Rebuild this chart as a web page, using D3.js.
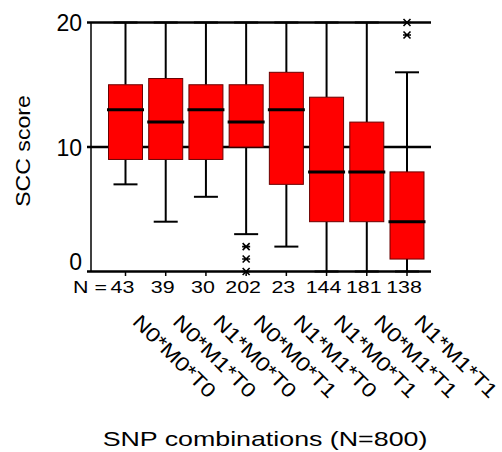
<!DOCTYPE html>
<html>
<head>
<meta charset="utf-8">
<script src="https://cdn.jsdelivr.net/npm/d3@7/dist/d3.min.js"></script>
<style>
html,body{margin:0;padding:0;background:#fff;}
svg{display:block;}
text{font-family:"Liberation Sans",Arial,sans-serif;fill:#000;}
</style>
</head>
<body>
<svg id="chart" width="502" height="452"></svg>
<script>
const categories = ["N0*M0*T0","N0*M1*T0","N1*M0*T0","N0*M0*T1","N1*M1*T0","N1*M0*T1","N0*M1*T1","N1*M1*T1"];
const counts     = [43, 39, 30, 202, 23, 144, 181, 138];
const whiskerMax = [20, 20, 20, 20, 20, 20, 20, 16];
const q3         = [15, 15.5, 15, 15, 16, 14, 12, 8];
const medians    = [13, 12, 13, 12, 13, 8, 8, 4];
const q1         = [9, 9, 9, 10, 7, 4, 4, 1];
const whiskerMin = [7, 4, 6, 3, 2, 0, 0, 0];
const outlierCat = ["N0*M0*T1","N0*M0*T1","N0*M0*T1","N1*M1*T1","N1*M1*T1"];
const outlierVal = [2, 1, 0, 20, 19];
const yTicks     = [0, 10, 20];

const svg = d3.select("#chart");
const y = d3.scaleLinear().domain([0, 20]).range([271.5, 22.5]);
const x = d3.scalePoint().domain(categories).range([125.5, 407]);
const left = 91, right = 431;
const boxW = 34, capW = 24, medW = 37;

const data = categories.map((c, i) => ({
  c, n: counts[i], max: whiskerMax[i], q3: q3[i], med: medians[i], q1: q1[i], min: whiskerMin[i]
}));

// y axis line
svg.append("line").attr("x1", left).attr("x2", left).attr("y1", y(20)).attr("y2", y(0))
  .attr("stroke", "#000").attr("stroke-width", 1.5);

// horizontal reference lines at ticks
svg.selectAll(".hline").data(yTicks).enter().append("line")
  .attr("x1", left - 4).attr("x2", right)
  .attr("y1", d => y(d)).attr("y2", d => y(d))
  .attr("stroke", "#000").attr("stroke-width", 2.5);

// y tick labels
svg.selectAll(".ylab").data(yTicks).enter().append("text")
  .attr("x", 82).attr("y", d => d === 0 ? y(d) - 1.5 : y(d) + 8.5)
  .attr("text-anchor", "end").attr("font-size", 23)
  .text(d => d);

// bottom ticks
svg.selectAll(".xtick").data(categories).enter().append("line")
  .attr("x1", d => x(d)).attr("x2", d => x(d))
  .attr("y1", y(0)).attr("y2", y(0) + 4.5)
  .attr("stroke", "#000").attr("stroke-width", 1.5);

const g = svg.selectAll(".box").data(data).enter().append("g");

// whiskers
g.append("line").attr("x1", d => x(d.c)).attr("x2", d => x(d.c))
  .attr("y1", d => y(d.q3)).attr("y2", d => y(d.max))
  .attr("stroke", "#000").attr("stroke-width", 2);
g.append("line").attr("x1", d => x(d.c)).attr("x2", d => x(d.c))
  .attr("y1", d => y(d.q1)).attr("y2", d => y(d.min))
  .attr("stroke", "#000").attr("stroke-width", 2);
// caps
g.append("line").attr("x1", d => x(d.c) - capW / 2).attr("x2", d => x(d.c) + capW / 2)
  .attr("y1", d => y(d.max)).attr("y2", d => y(d.max))
  .attr("stroke", "#000").attr("stroke-width", 2);
g.append("line").attr("x1", d => x(d.c) - capW / 2).attr("x2", d => x(d.c) + capW / 2)
  .attr("y1", d => y(d.min)).attr("y2", d => y(d.min))
  .attr("stroke", "#000").attr("stroke-width", 2);
// boxes
g.append("rect").attr("x", d => x(d.c) - boxW / 2).attr("width", boxW)
  .attr("y", d => y(d.q3)).attr("height", d => y(d.q1) - y(d.q3))
  .attr("fill", "#ff0000").attr("stroke", "#6b0000").attr("stroke-width", 1);
// medians
g.append("line").attr("x1", d => x(d.c) - medW / 2).attr("x2", d => x(d.c) + medW / 2)
  .attr("y1", d => y(d.med)).attr("y2", d => y(d.med))
  .attr("stroke", "#000").attr("stroke-width", 3);

// outliers as asterisks
const outliers = outlierCat.map((c, i) => ({ c, v: outlierVal[i] }));
const og = svg.selectAll(".out").data(outliers).enter().append("g")
  .attr("transform", d => `translate(${x(d.c)},${y(d.v)})`);
og.append("path")
  .attr("d", "M-4,0H4M-3.5,-3.5L3.5,3.5M-3.5,3.5L3.5,-3.5")
  .attr("stroke", "#000").attr("stroke-width", 1.6).attr("fill", "none");

// N row
svg.append("text").attr("transform", "translate(73,293) scale(1.26,1)")
  .attr("font-size", 17).text("N =");
svg.selectAll(".nlab").data(data).enter().append("text")
  .attr("transform", d => `translate(${x(d.c) - 3},293) scale(1.26,1)`)
  .attr("text-anchor", "middle").attr("font-size", 17)
  .text(d => d.n);

// rotated category labels
svg.selectAll(".clab").data(categories).enter().append("text")
  .attr("transform", d => `translate(${x(d) + 6},323) rotate(45) scale(1.17,1)`)
  .attr("font-size", 20)
  .text(d => d);

// axis titles
svg.append("text").attr("transform", "translate(30,151) rotate(-90) scale(1.1,1)")
  .attr("text-anchor", "middle").attr("font-size", 21)
  .text("SCC score");
svg.append("text").attr("transform", "translate(265,446) scale(1.34,1)")
  .attr("text-anchor", "middle").attr("font-size", 20)
  .text("SNP combinations (N=800)");
</script>
</body>
</html>
